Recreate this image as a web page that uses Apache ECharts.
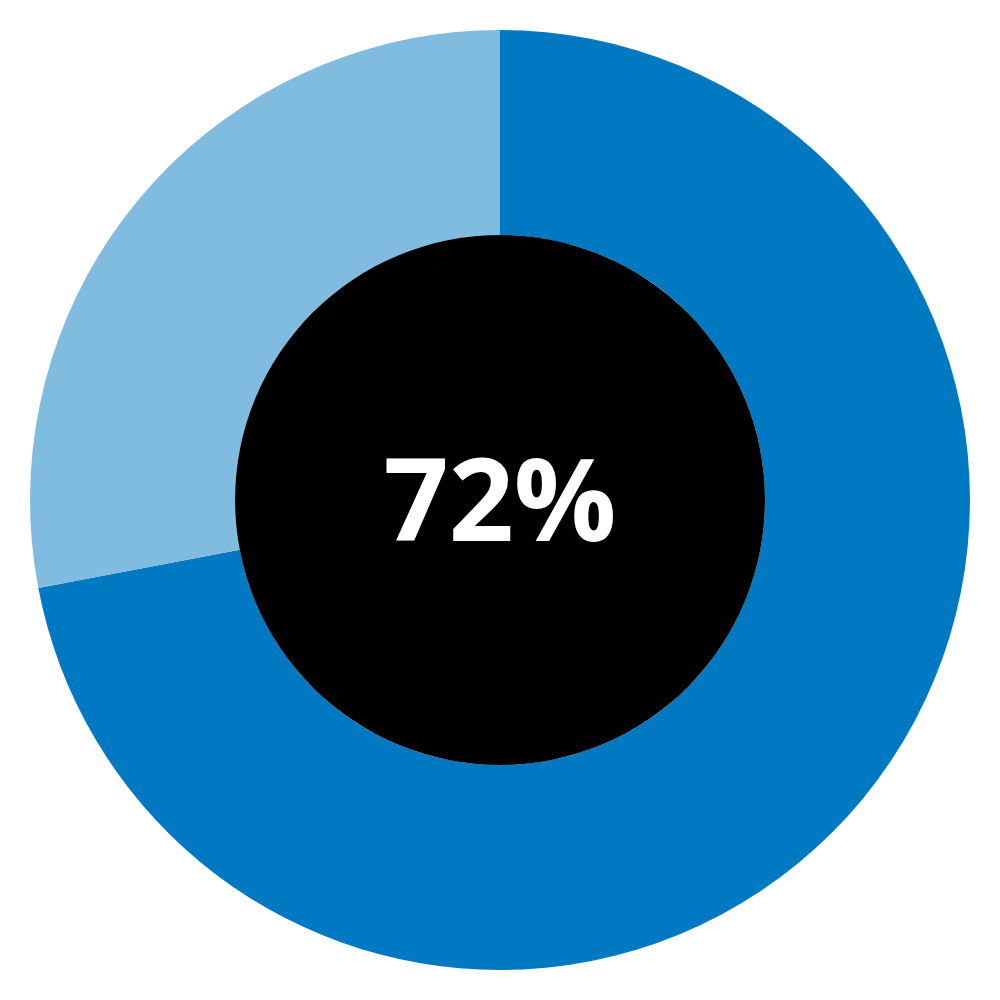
<!DOCTYPE html>
<html>
<head>
<meta charset="utf-8">
<script src="https://cdn.jsdelivr.net/npm/echarts@6/dist/echarts.min.js"></script>
<style>
  html, body { margin: 0; padding: 0; background: #fff; }
  #chart { width: 1000px; height: 1000px; }
</style>
</head>
<body>
<div id="chart"></div>
<script>
// 数据
var categories = ['Yes', 'No'];
var values = [72, 28];
var colors = ['#0179c2', '#80bbe0'];
var centerLabel = '72%';

var chart = echarts.init(document.getElementById('chart'));

var ringData = [];
for (var i = 0; i < categories.length; i++) {
    ringData.push({ name: categories[i], value: values[i], itemStyle: { color: colors[i] } });
}

var option = {
    backgroundColor: '#ffffff',
    animation: false,
    series: [
        {
            type: 'pie',
            center: ['50%', '50%'],
            radius: ['53%', '94%'],
            startAngle: 90,
            clockwise: true,
            silent: true,
            label: { show: false },
            labelLine: { show: false },
            itemStyle: { borderWidth: 0 },
            data: ringData
        },
        {
            // 中间黑色圆
            type: 'pie',
            center: ['50%', '50%'],
            radius: [0, '53%'],
            silent: true,
            itemStyle: { color: '#000000', borderWidth: 0 },
            label: {
                show: true,
                position: 'center',
                formatter: centerLabel,
                color: '#ffffff',
                fontFamily: 'Open Sans',
                fontWeight: 'bold',
                fontSize: 114,
                offset: [0, 9]
            },
            labelLine: { show: false },
            data: [{ name: 'center', value: 1 }]
        }
    ]
};

chart.setOption(option);
</script>
</body>
</html>
